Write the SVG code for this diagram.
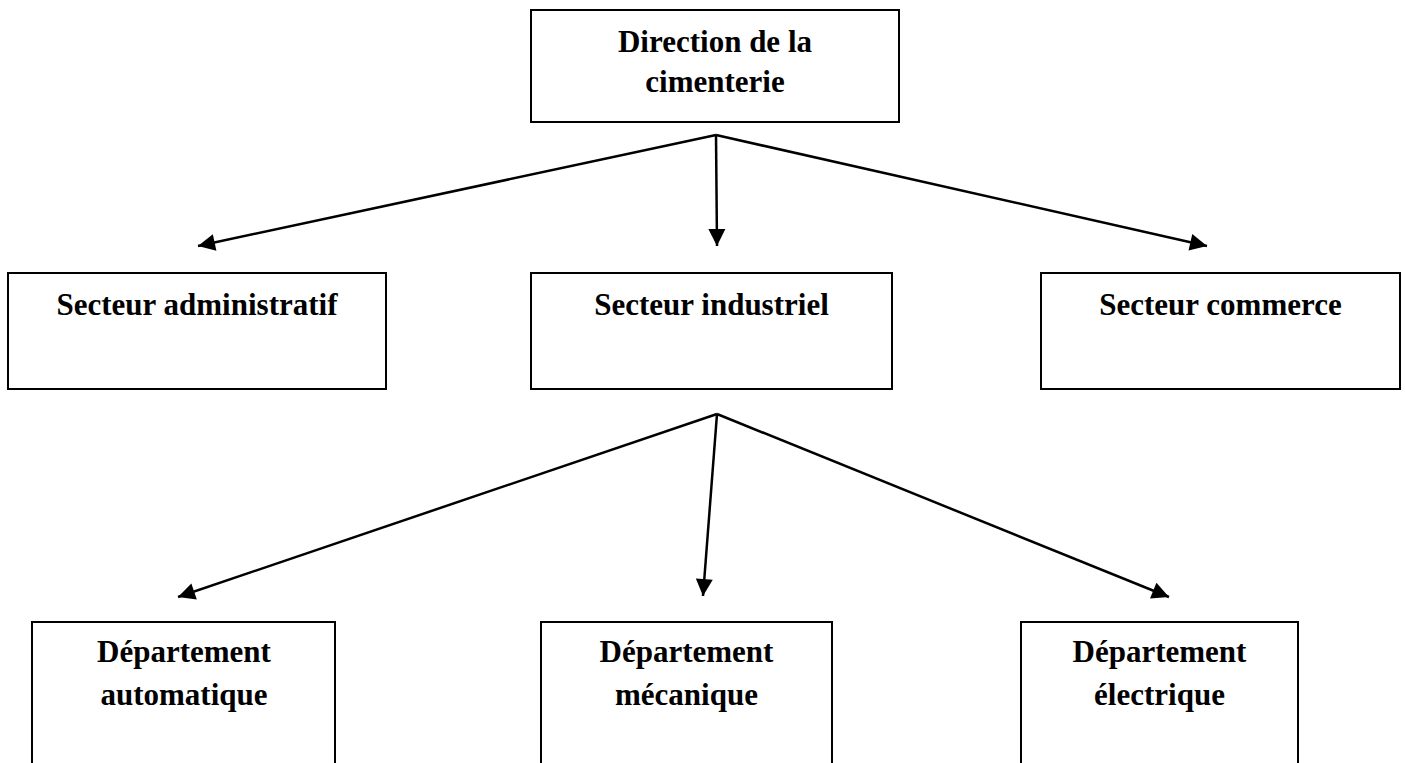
<svg xmlns="http://www.w3.org/2000/svg" width="1405" height="763" viewBox="0 0 1405 763">
  <style>
    .box { fill: #ffffff; stroke: #000000; stroke-width: 2; }
    .lbl { font-family: "Liberation Serif", "Times New Roman", serif; font-weight: bold; font-size: 31px; fill: #000000; text-anchor: middle; }
    .conn { stroke: #000000; stroke-width: 2.5; fill: none; marker-end: url(#arrow); }
  </style>
  <defs>
    <marker id="arrow" markerUnits="userSpaceOnUse" markerWidth="20" markerHeight="20" refX="17" refY="8.5" orient="auto" overflow="visible">
      <path d="M0,0 L17,8.5 L0,17 z" fill="#000000"/>
    </marker>
  </defs>
  <rect x="0" y="0" width="1405" height="763" fill="#ffffff"/>

  <g id="connectors">
    <line class="conn" x1="716" y1="135" x2="198" y2="246"/>
    <line class="conn" x1="716" y1="135" x2="717" y2="246"/>
    <line class="conn" x1="716" y1="135" x2="1207" y2="246"/>
    <line class="conn" x1="717" y1="414" x2="178" y2="597"/>
    <line class="conn" x1="717" y1="414" x2="703" y2="596"/>
    <line class="conn" x1="717" y1="414" x2="1169" y2="597"/>
  </g>

  <g id="direction">
    <rect class="box" x="531" y="10" width="368" height="112"/>
    <text class="lbl" x="715" y="52">Direction de la</text>
    <text class="lbl" x="715" y="92">cimenterie</text>
  </g>

  <g id="secteur-administratif">
    <rect class="box" x="8" y="273" width="378" height="116"/>
    <text class="lbl" x="197" y="315">Secteur administratif</text>
  </g>

  <g id="secteur-industriel">
    <rect class="box" x="531" y="273" width="361" height="116"/>
    <text class="lbl" x="711.5" y="315">Secteur industriel</text>
  </g>

  <g id="secteur-commerce">
    <rect class="box" x="1041" y="273" width="359" height="116"/>
    <text class="lbl" x="1220.5" y="315">Secteur commerce</text>
  </g>

  <g id="dep-automatique">
    <rect class="box" x="32" y="622" width="303" height="160"/>
    <text class="lbl" x="184" y="662">Département</text>
    <text class="lbl" x="184" y="705">automatique</text>
  </g>

  <g id="dep-mecanique">
    <rect class="box" x="541" y="622" width="291" height="160"/>
    <text class="lbl" x="686.5" y="662">Département</text>
    <text class="lbl" x="686.5" y="705">mécanique</text>
  </g>

  <g id="dep-electrique">
    <rect class="box" x="1021" y="622" width="277" height="160"/>
    <text class="lbl" x="1159.5" y="662">Département</text>
    <text class="lbl" x="1159.5" y="705">électrique</text>
  </g>
</svg>
